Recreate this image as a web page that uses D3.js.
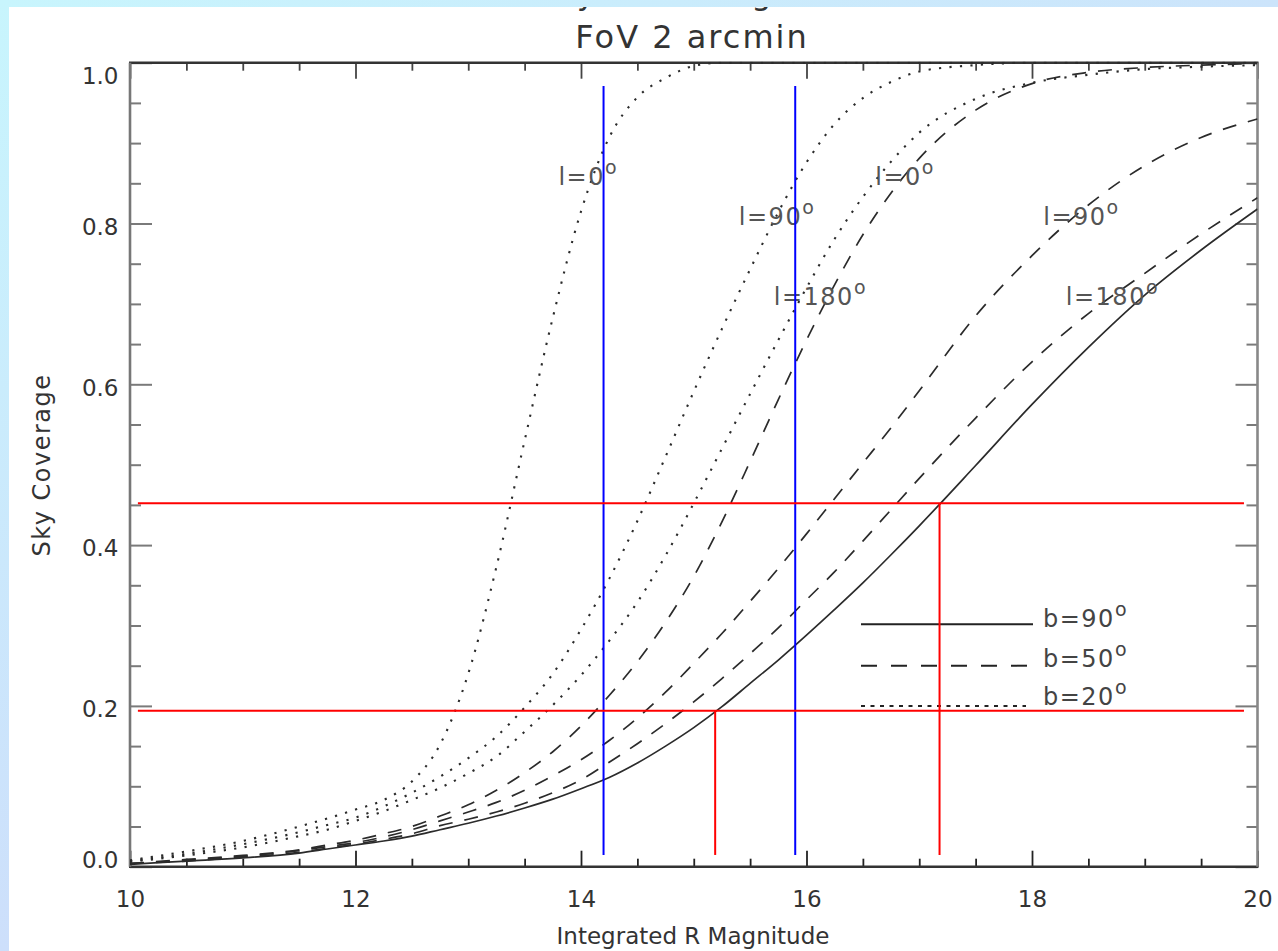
<!DOCTYPE html>
<html>
<head>
<meta charset="utf-8">
<script src="https://cdn.jsdelivr.net/npm/d3@7"></script>
<style>
  html, body { margin: 0; padding: 0; background: #fff; overflow: hidden; }
  svg { display: block; font-family: "DejaVu Sans", sans-serif; }
</style>
</head>
<body>
<svg id="chart" width="1278" height="951"></svg>
<script>
// ---- data ----------------------------------------------------------------
// Integrated R magnitude grid
const mags = [10, 10.5, 11, 11.5, 11.75, 12, 12.25, 12.5, 12.75, 13, 13.25, 13.5, 13.75,
              14, 14.25, 14.5, 14.75, 15, 15.25, 15.5, 15.75, 16, 16.25, 16.5, 16.75,
              17, 17.5, 18, 18.5, 19, 19.5, 20];

// Sky coverage, galactic latitude b = 20 deg
const b20_l0   = [0.008, 0.019, 0.032, 0.050, 0.060, 0.071, 0.083, 0.106, 0.152, 0.240, 0.373, 0.530, 0.683,
                  0.815, 0.907, 0.957, 0.981, 0.996, 1.0, 1.0, 1.0, 1.0, 1.0, 1.0, 1.0,
                  1.0, 1.0, 1.0, 1.0, 1.0, 1.0, 1.0];
const b20_l90  = [0.007, 0.016, 0.028, 0.043, 0.052, 0.061, 0.075, 0.092, 0.112, 0.135, 0.162, 0.198, 0.240,
                  0.295, 0.358, 0.430, 0.510, 0.591, 0.669, 0.743, 0.814, 0.876, 0.924, 0.956, 0.976,
                  0.989, 0.997, 1.0, 1.0, 1.0, 1.0, 1.0];
const b20_l180 = [0.006, 0.014, 0.024, 0.038, 0.046, 0.057, 0.069, 0.083, 0.098, 0.116, 0.137, 0.168, 0.201,
                  0.238, 0.281, 0.329, 0.387, 0.452, 0.520, 0.588, 0.655, 0.720, 0.781, 0.833, 0.877,
                  0.913, 0.955, 0.975, 0.985, 0.992, 0.995, 0.997];
// b = 50 deg
const b50_l0   = [0.004, 0.009, 0.014, 0.021, 0.027, 0.033, 0.041, 0.050, 0.063, 0.077, 0.095, 0.117, 0.143,
                  0.175, 0.213, 0.255, 0.304, 0.361, 0.429, 0.504, 0.581, 0.655, 0.724, 0.786, 0.838,
                  0.881, 0.941, 0.974, 0.988, 0.994, 0.997, 0.999];
const b50_l90  = [0.004, 0.008, 0.013, 0.020, 0.025, 0.030, 0.037, 0.046, 0.057, 0.068, 0.080, 0.095, 0.113,
                  0.133, 0.157, 0.185, 0.217, 0.253, 0.290, 0.330, 0.371, 0.414, 0.458, 0.502, 0.546,
                  0.592, 0.685, 0.760, 0.823, 0.872, 0.907, 0.930];
const b50_l180 = [0.004, 0.007, 0.012, 0.018, 0.023, 0.028, 0.034, 0.041, 0.051, 0.059, 0.068, 0.079, 0.092,
                  0.108, 0.130, 0.153, 0.178, 0.205, 0.234, 0.265, 0.297, 0.332, 0.367, 0.405, 0.444,
                  0.483, 0.558, 0.628, 0.688, 0.738, 0.787, 0.832];
// b = 90 deg (galactic pole, independent of l)
const b90      = [0.003, 0.007, 0.011, 0.017, 0.022, 0.027, 0.032, 0.038, 0.046, 0.054, 0.063, 0.073, 0.084,
                  0.097, 0.111, 0.129, 0.150, 0.173, 0.199, 0.228, 0.257, 0.288, 0.320, 0.353, 0.388,
                  0.424, 0.499, 0.575, 0.646, 0.711, 0.767, 0.818];

// axis ticks and labels
const xTicks = [10, 12, 14, 16, 18, 20];
const xTickLabels = ["10", "12", "14", "16", "18", "20"];
const xMinorTicks = [10.5, 11, 11.5, 12.5, 13, 13.5, 14.5, 15, 15.5, 16.5, 17, 17.5, 18.5, 19, 19.5];
const yTicks = [0, 0.2, 0.4, 0.6, 0.8, 1.0];
const yTickLabels = ["0.0", "0.2", "0.4", "0.6", "0.8", "1.0"];
const yMinorTicks = [0.05, 0.1, 0.15, 0.25, 0.3, 0.35, 0.45, 0.5, 0.55, 0.65, 0.7, 0.75, 0.85, 0.9, 0.95];

// marker lines: magnitude limits (blue), coverage levels (red) and their magnitudes
const blueMags = [14.2, 15.9];
const redLevels = [0.452, 0.194];
const redMags = [17.18, 15.19];

// text
const titleText = "FoV 2 arcmin";
const topLineText = "Sky Coverage";
const xTitle = "Integrated R Magnitude";
const yTitle = "Sky Coverage";
const curveLabels = ["l=0", "l=90", "l=180"];
const legendLabels = ["b=90", "b=50", "b=20"];

// ---- layout ----------------------------------------------------------------
const W = 1278, H = 951;
const svg = d3.select("#chart");
const x = d3.scaleLinear().domain([10, 20]).range([130, 1257.5]);
const y = d3.scaleLinear().domain([0, 1]).range([866.7, 62.7]);
const ink = "#333";

svg.append("rect").attr("width", W).attr("height", H).attr("fill", "#fff");

// line above the title, mostly hidden under the page band
svg.append("text")
  .attr("x", 531).attr("y", 4)
  .attr("font-size", 32).attr("letter-spacing", 4)
  .attr("fill", ink)
  .text(topLineText);

// page bands (top and left)
const defs = svg.append("defs");
const gTop = defs.append("linearGradient").attr("id", "bandTop").attr("x1", 0).attr("x2", 1).attr("y1", 0).attr("y2", 0);
gTop.append("stop").attr("offset", 0).attr("stop-color", "#c8f5fd");
gTop.append("stop").attr("offset", 1).attr("stop-color", "#cce4fb");
const gLeft = defs.append("linearGradient").attr("id", "bandLeft").attr("x1", 0).attr("x2", 0).attr("y1", 0).attr("y2", 1);
gLeft.append("stop").attr("offset", 0).attr("stop-color", "#c8f5fd");
gLeft.append("stop").attr("offset", 1).attr("stop-color", "#cddffb");
svg.append("rect").attr("x", 0).attr("y", 0).attr("width", W).attr("height", 7).attr("fill", "url(#bandTop)");
svg.append("rect").attr("x", 0).attr("y", 0).attr("width", 9).attr("height", H).attr("fill", "url(#bandLeft)");

// clip for the plotting region
defs.append("clipPath").attr("id", "plotClip")
  .append("rect")
  .attr("x", x(10)).attr("y", y(1) - 1)
  .attr("width", x(20) - x(10)).attr("height", y(0) - y(1) + 2);

// ---- axes ------------------------------------------------------------------
const tickFont = 23;
function styleAxis(g, color, width) {
  g.select(".domain").remove();
  g.selectAll(".tick line").attr("stroke", color).attr("stroke-width", width);
  g.selectAll(".tick text").attr("fill", ink).attr("font-size", tickFont)
    .attr("font-family", "DejaVu Sans, sans-serif");
}

// bottom
svg.append("g").attr("transform", `translate(0,${y(0)})`)
  .call(d3.axisBottom(x).tickValues(xTicks).tickSizeInner(-16).tickSizeOuter(0).tickPadding(23.5)
        .tickFormat((d, i) => xTickLabels[i]))
  .call(g => styleAxis(g, "#222", 1.8));
svg.append("g").attr("transform", `translate(0,${y(0)})`)
  .call(d3.axisBottom(x).tickValues(xMinorTicks).tickSizeInner(-8).tickSizeOuter(0).tickFormat(""))
  .call(g => styleAxis(g, "#222", 1.8));
// top
svg.append("g").attr("transform", `translate(0,${y(1)})`)
  .call(d3.axisTop(x).tickValues(xTicks).tickSizeInner(-16).tickSizeOuter(0).tickFormat(""))
  .call(g => styleAxis(g, "#444", 1.8));
svg.append("g").attr("transform", `translate(0,${y(1)})`)
  .call(d3.axisTop(x).tickValues(xMinorTicks).tickSizeInner(-8).tickSizeOuter(0).tickFormat(""))
  .call(g => styleAxis(g, "#444", 1.8));
// left
const leftAxis = svg.append("g").attr("transform", `translate(${x(10)},0)`)
  .call(d3.axisLeft(y).tickValues(yTicks).tickSizeInner(-22).tickSizeOuter(0).tickPadding(11.5)
        .tickFormat((d, i) => yTickLabels[i]))
  .call(g => styleAxis(g, "#7a7a7a", 2));
leftAxis.selectAll(".tick text").attr("dy", d => d === 1 ? "0.89em" : (d === 0 ? "0.02em" : "0.47em"));
svg.append("g").attr("transform", `translate(${x(10)},0)`)
  .call(d3.axisLeft(y).tickValues(yMinorTicks).tickSizeInner(-11).tickSizeOuter(0).tickFormat(""))
  .call(g => styleAxis(g, "#7a7a7a", 2));
// right
svg.append("g").attr("transform", `translate(${x(20)},0)`)
  .call(d3.axisRight(y).tickValues(yTicks).tickSizeInner(-22).tickSizeOuter(0).tickFormat(""))
  .call(g => styleAxis(g, "#7a7a7a", 2));
svg.append("g").attr("transform", `translate(${x(20)},0)`)
  .call(d3.axisRight(y).tickValues(yMinorTicks).tickSizeInner(-11).tickSizeOuter(0).tickFormat(""))
  .call(g => styleAxis(g, "#7a7a7a", 2));

// frame
const frame = svg.append("g");
frame.append("line").attr("x1", x(10) - 1).attr("x2", x(20) + 1).attr("y1", y(0)).attr("y2", y(0))
  .attr("stroke", "#333").attr("stroke-width", 2.4);
frame.append("line").attr("x1", x(10) - 1).attr("x2", x(20) + 1).attr("y1", y(1)).attr("y2", y(1))
  .attr("stroke", "#333").attr("stroke-width", 2.4);
frame.append("line").attr("x1", x(10)).attr("x2", x(10)).attr("y1", y(1)).attr("y2", y(0))
  .attr("stroke", "#777").attr("stroke-width", 2.6);
frame.append("line").attr("x1", x(20)).attr("x2", x(20)).attr("y1", y(1)).attr("y2", y(0))
  .attr("stroke", "#888").attr("stroke-width", 2.6);

// ---- curves -----------------------------------------------------------------
const styles = {
  solid:  { dash: null,      width: 1.7 },
  dashed: { dash: "14,12",   width: 1.7 },
  dotted: { dash: "2.2,8.3", width: 2.1 }
};
const series = [
  { values: b20_l0,   style: "dotted" },
  { values: b20_l90,  style: "dotted" },
  { values: b20_l180, style: "dotted" },
  { values: b50_l0,   style: "dashed" },
  { values: b50_l90,  style: "dashed" },
  { values: b50_l180, style: "dashed" },
  { values: b90,      style: "solid" }
];
const line = d3.line()
  .x(d => x(d[0])).y(d => y(d[1]))
  .curve(d3.curveMonotoneX);
const curves = svg.append("g").attr("clip-path", "url(#plotClip)");
series.forEach(s => {
  const st = styles[s.style];
  curves.append("path")
    .datum(mags.map((m, i) => [m, s.values[i]]))
    .attr("d", line)
    .attr("fill", "none")
    .attr("stroke", "#2b2b2b")
    .attr("stroke-width", st.width)
    .attr("stroke-dasharray", st.dash);
});

// ---- curve labels (l = galactic longitude) ---------------------------------
const labelSpots = [
  { label: 0, mag: 13.80, cov: 0.848 },
  { label: 1, mag: 15.40, cov: 0.798 },
  { label: 2, mag: 15.71, cov: 0.699 },
  { label: 0, mag: 16.61, cov: 0.848 },
  { label: 1, mag: 18.10, cov: 0.798 },
  { label: 2, mag: 18.30, cov: 0.699 }
];
function degreeText(sel, txt, fill) {
  sel.attr("font-size", 24).attr("letter-spacing", 1.5).attr("fill", fill);
  sel.append("tspan").text(txt);
  sel.append("tspan").attr("font-size", 19).attr("dy", -11).text("o");
}
labelSpots.forEach(p => {
  svg.append("text")
    .attr("x", x(p.mag)).attr("y", y(p.cov))
    .call(t => degreeText(t, curveLabels[p.label], "#555"));
});

// ---- legend ---------------------------------------------------------------
const legendRows = [
  { style: "solid",  y: 624.3, textY: 627, x2: 1033 },
  { style: "dashed", y: 665.7, textY: 667, x2: 1031 },
  { style: "dotted", y: 706,   textY: 705, x2: 1026 }
];
legendRows.forEach((r, i) => {
  svg.append("line")
    .attr("x1", 861).attr("x2", r.x2).attr("y1", r.y).attr("y2", r.y)
    .attr("stroke", "#222").attr("stroke-width", r.style === "dotted" ? 2.2 : 2)
    .attr("stroke-dasharray", r.style === "dashed" ? "16,14" : (r.style === "dotted" ? "4,5.5" : null));
  svg.append("text")
    .attr("x", 1043).attr("y", r.textY)
    .call(t => degreeText(t, legendLabels[i], "#444"));
});

// ---- reference lines ------------------------------------------------------
const refs = svg.append("g");
blueMags.forEach(m => {
  refs.append("line")
    .attr("x1", x(m)).attr("x2", x(m)).attr("y1", y(0.971)).attr("y2", y(0.0146))
    .attr("stroke", "#0000ff").attr("stroke-width", 2);
});
redLevels.forEach((lv, i) => {
  refs.append("line")
    .attr("x1", x(10.07)).attr("x2", x(19.88)).attr("y1", y(lv)).attr("y2", y(lv))
    .attr("stroke", "#ff0000").attr("stroke-width", 2);
  refs.append("line")
    .attr("x1", x(redMags[i])).attr("x2", x(redMags[i])).attr("y1", y(lv)).attr("y2", y(0.0146))
    .attr("stroke", "#ff0000").attr("stroke-width", 2);
});

// ---- titles -----------------------------------------------------------------
svg.append("text")
  .attr("x", 692).attr("y", 48)
  .attr("text-anchor", "middle")
  .attr("font-size", 32).attr("letter-spacing", 2)
  .attr("fill", ink)
  .text(titleText);
svg.append("text")
  .attr("x", 693).attr("y", 944)
  .attr("text-anchor", "middle")
  .attr("font-size", 23)
  .attr("fill", ink)
  .text(xTitle);
svg.append("text")
  .attr("transform", "translate(50,465) rotate(-90)")
  .attr("text-anchor", "middle")
  .attr("font-size", 24).attr("letter-spacing", 1.5)
  .attr("fill", ink)
  .text(yTitle);
</script>
</body>
</html>
